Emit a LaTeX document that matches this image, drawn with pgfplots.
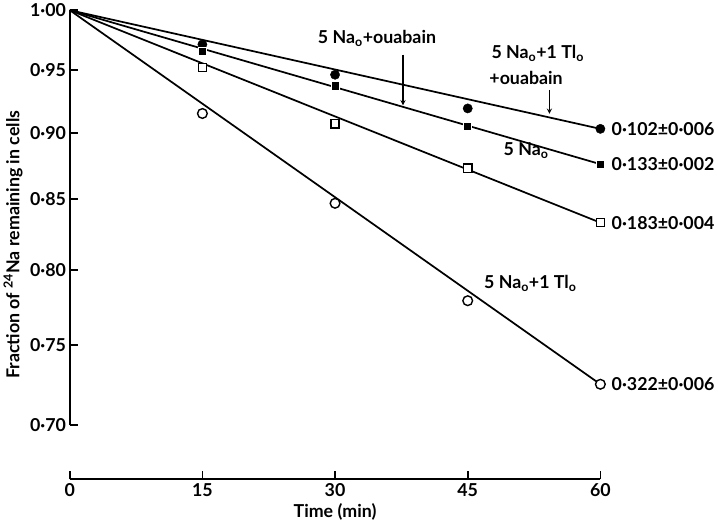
\documentclass[border=0pt]{standalone}
\usepackage{pgfplots}
\pgfplotsset{compat=1.18}
\usepackage{fontspec}
\setmainfont{Lato}
\newcommand{\s}{\textsubscript{o}}
\newcommand{\f}{\bfseries\fontsize{16.5}{18}\selectfont}
\begin{document}
\begin{tikzpicture}[font=\bfseries]
\begin{axis}[
  scale only axis, width=492pt, height=435pt,
  xmin=0, xmax=60, ymode=log, ymin=0.668, ymax=1.0,
  axis x line*=bottom, axis y line*=left,
  y axis line style={draw=none},
  x axis line style={line width=1.6pt},
  xtick={0,15,30,45,60}, xticklabels={0,15,30,45,60},
  ytick={0.7,0.75,0.8,0.85,0.9,0.95,1.0},
  yticklabels={0·70,0·75,0·80,0·85,0·90,0·95,1·00},
  tick style={line width=1.6pt,black}, major tick length=8pt,
  tick align=inside, minor tick num=0,
  ticklabel style={font=\f},
  xlabel={Time (min)}, ylabel={Fraction of \textsuperscript{24}Na remaining in cells},
  label style={font=\f},
  clip=false, clip mode=individual,
]
\draw[line width=1.6pt] (axis cs:0,0.7) -- (axis cs:0,1.0);
\addplot[line width=1.6pt, no marks] coordinates {(0,1) (60,0.903)};
\addplot[line width=1.6pt, no marks] coordinates {(0,1) (60,0.876)};
\addplot[line width=1.6pt, no marks] coordinates {(0,1) (60,0.833)};
\addplot[line width=1.6pt, no marks] coordinates {(0,1) (60,0.725)};
\addplot[only marks, mark=*, mark size=4.3pt, mark options={fill=black}] coordinates {(15,0.971) (30,0.946) (45,0.919) (60,0.903)};
\addplot[only marks, mark=square*, mark size=3.8pt, mark options={fill=black,draw=white,line width=0.8pt}] coordinates {(15,0.965) (30,0.937) (45,0.905) (60,0.876)};
\addplot[only marks, mark=square*, mark size=3.8pt, mark options={fill=white,draw=black,line width=1.3pt}] coordinates {(15,0.952) (30,0.907) (45,0.873) (60,0.833)};
\addplot[only marks, mark=*, mark size=4.5pt, mark options={fill=white,draw=black,line width=1.3pt}] coordinates {(15,0.915) (30,0.847) (45,0.779) (60,0.725)};
\node[font=\f] at (rel axis cs:0.579,0.940) {5 Na\s+ouabain};
\draw[line width=1.2pt,-stealth] (rel axis cs:0.628,0.905) -- (rel axis cs:0.628,0.797);
\node[font=\f] at (rel axis cs:0.882,0.908) {5 Na\s+1 Tl\s};
\node[font=\f] at (rel axis cs:0.860,0.855) {+ouabain};
\draw[line width=1.2pt,-stealth] (rel axis cs:0.904,0.830) -- (rel axis cs:0.904,0.779);
\node[font=\f] at (rel axis cs:0.86,0.70) {5 Na\s};
\node[font=\f] at (rel axis cs:0.868,0.418) {5 Na\s+1 Tl\s};
\node[anchor=west,font=\f] at ([xshift=7pt]axis cs:60,0.903) {0·102±0·006};
\node[anchor=west,font=\f] at ([xshift=7pt]axis cs:60,0.876) {0·133±0·002};
\node[anchor=west,font=\f] at ([xshift=7pt]axis cs:60,0.833) {0·183±0·004};
\node[anchor=west,font=\f] at ([xshift=7pt]axis cs:60,0.725) {0·322±0·006};
\end{axis}
\end{tikzpicture}
\end{document}
